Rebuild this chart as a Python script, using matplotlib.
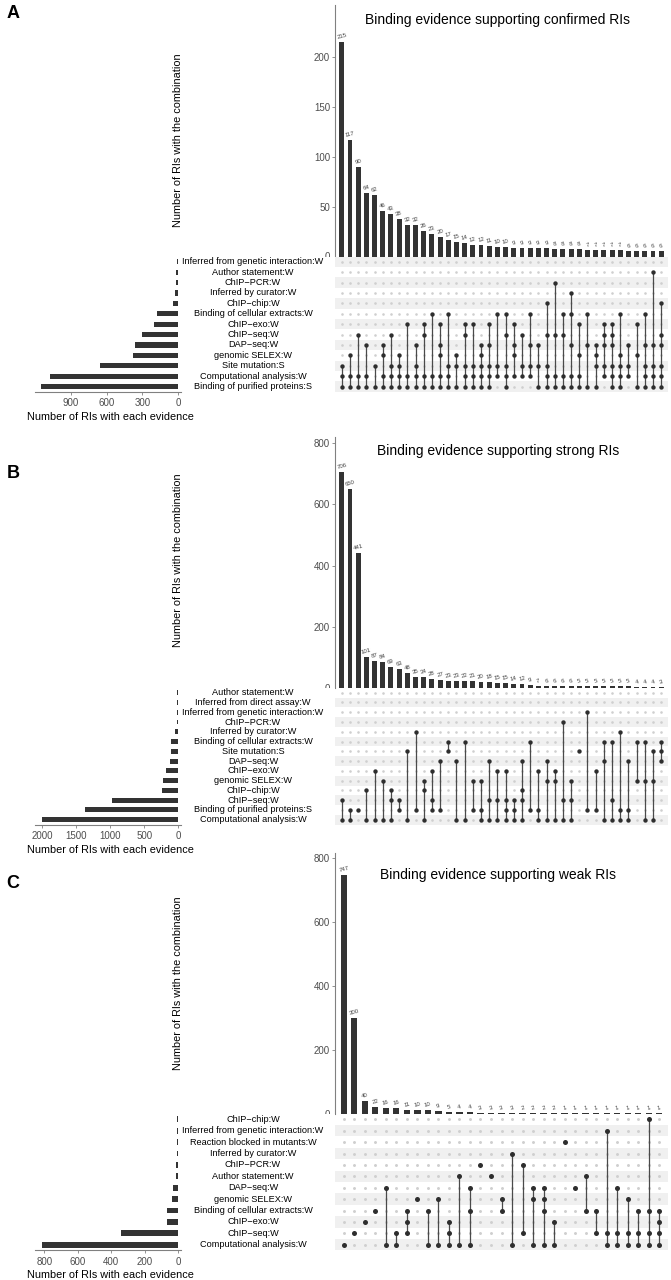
import matplotlib
matplotlib.use('Agg')
import matplotlib.pyplot as plt

plt.rcParams['font.family'] = ['Liberation Sans', 'DejaVu Sans']

# ---------------- DATA ----------------
# Panel A: confirmed RIs
a_sets = ["Inferred from genetic interaction:W", "Author statement:W", "ChIP\u2212PCR:W",
          "Inferred by curator:W", "ChIP\u2212chip:W", "Binding of cellular extracts:W",
          "ChIP\u2212exo:W", "ChIP\u2212seq:W", "DAP\u2212seq:W", "genomic SELEX:W",
          "Site mutation:S", "Computational analysis:W", "Binding of purified proteins:S"]
a_set_sizes = [11, 17, 23, 31, 48, 175, 200, 304, 363, 375, 659, 1070, 1146]
a_counts = [215, 117, 90, 64, 62, 46, 43, 38, 32, 32, 26, 23, 20, 17, 15, 14, 12, 12, 11, 10,
            10, 9, 9, 9, 9, 9, 8, 8, 8, 8, 7, 7, 7, 7, 7, 6, 6, 6, 6, 6]
a_combos = [[10, 11, 12], [9, 11, 12], [7, 11, 12], [8, 11, 12], [10, 12], [8, 9, 11, 12],
            [7, 10, 11, 12], [9, 10, 11, 12], [6, 11, 12], [8, 10, 11, 12], [6, 7, 11, 12],
            [5, 11, 12], [6, 8, 9, 11, 12], [5, 10, 11, 12], [9, 10, 12], [6, 7, 10, 11, 12],
            [6, 10, 11, 12], [8, 9, 10, 11, 12], [6, 8, 10, 11, 12], [5, 10, 11],
            [5, 7, 10, 11, 12], [6, 8, 9, 11], [7, 10, 11], [5, 8, 10, 11], [8, 10, 12],
            [4, 7, 10, 11, 12], [2, 7, 11, 12], [5, 7, 11, 12], [3, 5, 8, 11, 12], [6, 9, 11, 12],
            [5, 8, 12], [8, 9, 10, 12], [6, 7, 8, 10, 11], [6, 7, 8, 10, 11, 12],
            [5, 9, 10, 11, 12], [8, 10, 11], [6, 9, 12], [5, 8, 10, 11, 12], [1, 8, 10, 11, 12],
            [4, 7, 8, 10, 11, 12]]

# Panel B: strong RIs
b_sets = ["Author statement:W", "Inferred from direct assay:W", "Inferred from genetic interaction:W",
          "ChIP\u2212PCR:W", "Inferred by curator:W", "Binding of cellular extracts:W",
          "Site mutation:S", "DAP\u2212seq:W", "ChIP\u2212exo:W", "genomic SELEX:W",
          "ChIP\u2212chip:W", "ChIP\u2212seq:W", "Binding of purified proteins:S",
          "Computational analysis:W"]
b_set_sizes = [12, 15, 20, 25, 54, 103, 108, 127, 186, 220, 235, 980, 1368, 2005]
b_counts = [706, 650, 441, 101, 87, 84, 69, 63, 48, 35, 34, 28, 27, 23, 23, 22, 21, 20, 18, 15,
            15, 14, 12, 9, 7, 6, 6, 6, 6, 5, 5, 5, 5, 5, 5, 5, 4, 4, 4, 3]
b_combos = [[11, 13], [12, 13], [12], [10, 13], [8, 13], [9, 13], [10, 11, 13], [11, 12],
            [6, 13], [4, 12], [9, 10, 13], [8, 11, 12], [7, 12], [5, 6], [7, 13], [5, 13],
            [9, 12], [9, 12, 13], [7, 11, 13], [8, 11, 13], [8, 11, 12, 13], [11, 12, 13],
            [7, 10, 11, 13], [5, 12], [8, 12, 13], [7, 9, 13], [8, 9, 13], [3, 11, 13],
            [9, 11, 13], [6], [2, 12], [8, 12], [5, 7, 13], [5, 11, 13], [4, 12, 13],
            [7, 12, 13], [5, 9], [5, 9, 13], [6, 9, 13], [5, 6, 7]]

# Panel C: weak RIs
c_sets = ["ChIP\u2212chip:W", "Inferred from genetic interaction:W", "Reaction blocked in mutants:W",
          "Inferred by curator:W", "ChIP\u2212PCR:W", "Author statement:W", "DAP\u2212seq:W",
          "genomic SELEX:W", "Binding of cellular extracts:W", "ChIP\u2212exo:W", "ChIP\u2212seq:W",
          "Computational analysis:W"]
c_set_sizes = [9, 9, 9, 10, 11, 14, 34, 36, 66, 68, 340, 812]
c_counts = [747, 300, 40, 22, 16, 16, 11, 10, 10, 9, 5, 4, 4, 3, 3, 3, 3, 2, 2, 2, 2,
            1, 1, 1, 1, 1, 1, 1, 1, 1, 1]
c_combos = [[11], [10], [9], [8], [6, 11], [10, 11], [8, 9, 10], [7], [8, 11], [7, 11],
            [9, 10, 11], [5, 11], [6, 8, 11], [4], [5], [7, 8], [3, 11], [4, 10], [6, 7, 11],
            [6, 7, 8, 11], [9, 11], [2], [6], [5, 8], [8, 10], [1, 10, 11], [6, 10, 11],
            [7, 10, 11], [8, 10, 11], [0, 8, 10, 11], [8, 9, 10, 11]]

titles = ["Binding evidence supporting confirmed RIs",
          "Binding evidence supporting strong RIs",
          "Binding evidence supporting weak RIs"]
letters = ["A", "B", "C"]
bar_ticks = [[0, 50, 100, 150, 200], [0, 200, 400, 600, 800], [0, 200, 400, 600, 800]]
set_ticks = [[0, 300, 600, 900], [0, 500, 1000, 1500, 2000], [0, 200, 400, 600, 800]]

# ---------------- LAYOUT (pixels) ----------------
W, H = 671, 1280
layouts = [
    dict(top=5, row0=261.7, sp=10.4, ymax=251.6, setlim=(1198.6, -26.8),
         title_y=20, letter_y=14, ylab_y=140, dot=10, idot=3.5),
    dict(top=437, row0=692.7, sp=9.77, ymax=820.6, setlim=(2107, -47),
         title_y=451, letter_y=473, ylab_y=560, dot=10, idot=3.5),
    dict(top=853, row0=1119.3, sp=11.4, ymax=815, setlim=(855.5, -19.1),
         title_y=875, letter_y=883, ylab_y=983, dot=13, idot=4.5),
]
MX0, MX1 = 335, 668      # matrix / bar columns
LX0, LX1 = 35, 181.5     # set size bars
LAB_X = 253              # centre of set labels
PAD = 0.83
BAR_C = '#333333'
AX_C = '#808080'
TXT_C = '#4d4d4d'

fig = plt.figure(figsize=(W / 100, H / 100), dpi=100)
fig.patch.set_facecolor('white')


def px_axes(x0, y0, x1, y1):
    return fig.add_axes([x0 / W, 1 - y1 / H, (x1 - x0) / W, (y1 - y0) / H])


panels = [(a_sets, a_set_sizes, a_counts, a_combos),
          (b_sets, b_set_sizes, b_counts, b_combos),
          (c_sets, c_set_sizes, c_counts, c_combos)]

for k, (sets, sizes, counts, combos) in enumerate(panels):
    L = layouts[k]
    nrow = len(sets)
    ncol = len(counts)
    mtop = L['row0'] - L['sp'] / 2
    mbot = L['row0'] + (nrow - 0.5) * L['sp']

    # --- intersection bars ---
    axb = px_axes(MX0, L['top'], MX1, mtop)
    xs = list(range(ncol))
    axb.bar(xs, counts, width=0.6, color=BAR_C, zorder=2)
    for x, v in zip(xs, counts):
        axb.text(x, v + L['ymax'] * 0.008, str(v), ha='center', va='bottom',
                 fontsize=4.3, color='#444444', rotation=15)
    axb.set_xlim(-PAD, ncol - 1 + PAD)
    axb.set_ylim(0, L['ymax'])
    axb.set_yticks(bar_ticks[k])
    axb.tick_params(axis='y', labelsize=7, colors=TXT_C, length=2, width=0.6, pad=1.5)
    axb.tick_params(axis='y', color=AX_C)
    axb.set_xticks([])
    for s in ['top', 'right', 'bottom']:
        axb.spines[s].set_visible(False)
    axb.spines['left'].set_color(AX_C)
    axb.spines['left'].set_linewidth(0.8)
    axb.patch.set_alpha(0)
    fig.text(498 / W, 1 - L['title_y'] / H, titles[k], ha='center', va='center', fontsize=10)
    fig.text(178 / W, 1 - L['ylab_y'] / H, "Number of RIs with the combination", rotation=90,
             ha='center', va='center', fontsize=7.8, color='black')
    fig.text(13 / W, 1 - L['letter_y'] / H, letters[k], ha='center', va='center',
             fontsize=13, fontweight='bold')

    # --- matrix ---
    axm = px_axes(MX0, mtop, MX1, mbot)
    axm.set_xlim(-PAD, ncol - 1 + PAD)
    axm.set_ylim(nrow - 0.5, -0.5)
    for r in range(nrow):
        if (nrow - 1 - r) % 2 == 0:
            axm.axhspan(r - 0.5, r + 0.5, color='#f0f0f0', lw=0, zorder=0)
    for c in range(ncol):
        axm.scatter([c] * nrow, range(nrow), s=L['idot'], color='#cfcfcf', lw=0, zorder=1)
    for c, combo in enumerate(combos):
        if len(combo) > 1:
            axm.plot([c, c], [min(combo), max(combo)], color='#4a4a4a', lw=0.9, zorder=2)
        axm.scatter([c] * len(combo), combo, s=L['dot'], color='#2e2e2e', lw=0, zorder=3)
    axm.axis('off')

    # --- set labels (white panel hides lower half of the "0" tick) ---
    axl = px_axes(LX1, mtop, MX0, mbot)
    axl.set_xlim(0, 1)
    axl.set_ylim(nrow - 0.5, -0.5)
    lab_x = (LAB_X - LX1) / (MX0 - LX1)
    for r, name in enumerate(sets):
        axl.text(lab_x, r, name, ha='center', va='center', fontsize=6.6, color='black')
    axl.set_xticks([])
    axl.set_yticks([])
    for s in axl.spines.values():
        s.set_visible(False)
    axl.patch.set_facecolor('white')

    # --- set size bars ---
    axs = px_axes(LX0, mtop, LX1, mbot)
    axs.barh(range(nrow), sizes, height=0.5, color=BAR_C)
    axs.set_xlim(*L['setlim'])
    axs.set_ylim(nrow - 0.5, -0.5)
    axs.set_xticks(set_ticks[k])
    axs.set_yticks([])
    axs.tick_params(axis='x', labelsize=7, colors=TXT_C, length=2, width=0.6, pad=2.5)
    axs.tick_params(axis='x', color=AX_C)
    for s in ['top', 'right', 'left']:
        axs.spines[s].set_visible(False)
    axs.spines['bottom'].set_color(AX_C)
    axs.spines['bottom'].set_linewidth(0.8)
    axs.patch.set_alpha(0)
    fig.text(110 / W, 1 - (mbot + 25) / H, "Number of RIs with each evidence",
             ha='center', va='center', fontsize=7.8, color='black')

fig.savefig('out.png', dpi=100, facecolor='white')
